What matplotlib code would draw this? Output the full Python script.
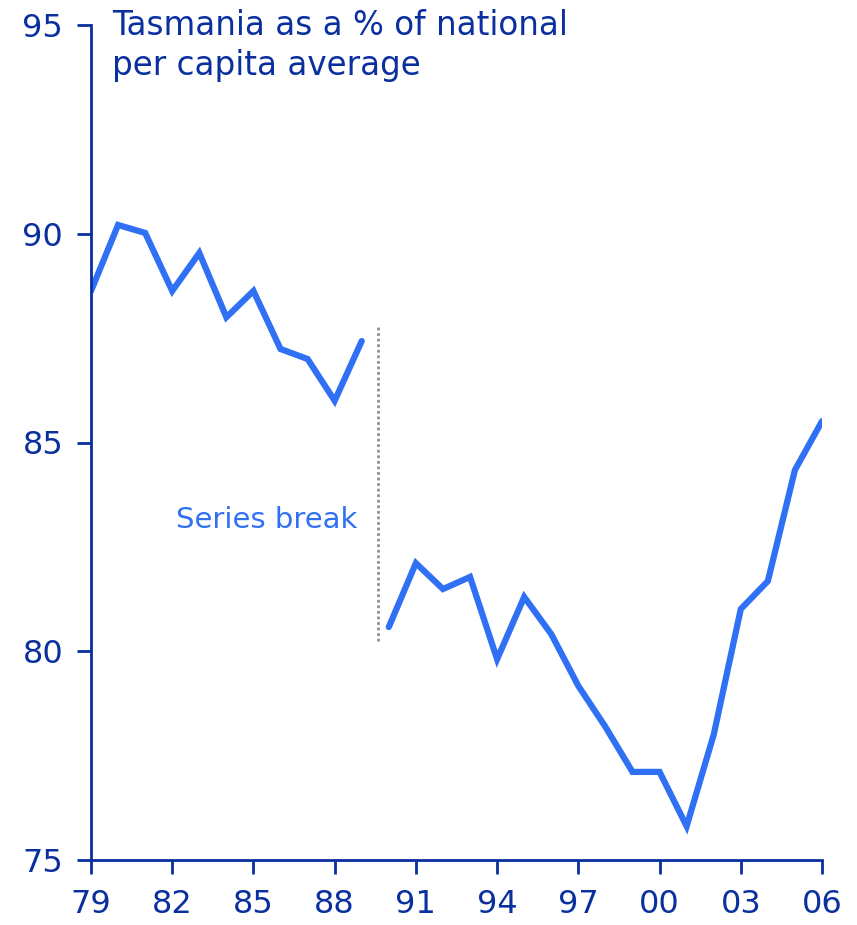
import matplotlib.pyplot as plt

# Data: Tasmania as % of national per capita average
years_a = [1979, 1980, 1981, 1982, 1983, 1984, 1985, 1986, 1987, 1988, 1989]
values_a = [88.63, 90.21, 90.02, 88.63, 89.54, 88.0, 88.63, 87.24, 87.0, 86.0, 87.43]

years_b = [1990, 1991, 1992, 1993, 1994, 1995, 1996, 1997, 1998, 1999,
           2000, 2001, 2002, 2003, 2004, 2005, 2006]
values_b = [80.58, 82.11, 81.49, 81.78, 79.81, 81.3, 80.41, 79.17, 78.19, 77.11,
            77.11, 75.81, 78.0, 81.01, 81.68, 84.34, 85.51]

break_x = 1989.6
break_range = [80.25, 87.8]

xticks = [1979, 1982, 1985, 1988, 1991, 1994, 1997, 2000, 2003, 2006]
xtick_labels = ['79', '82', '85', '88', '91', '94', '97', '00', '03', '06']
yticks = [75, 80, 85, 90, 95]

navy = '#0a2f9e'
line_blue = '#3070f5'

plt.rcParams['font.family'] = 'DejaVu Sans'

fig = plt.figure(figsize=(8.57, 9.25), dpi=100)
ax = fig.add_axes([91 / 857, 1 - 860 / 925, 731 / 857, 835 / 925])

ax.plot(years_a, values_a, color=line_blue, lw=4.5, solid_joinstyle='miter', solid_capstyle='round')
ax.plot(years_b, values_b, color=line_blue, lw=4.5, solid_joinstyle='miter', solid_capstyle='round')
ax.vlines(break_x, break_range[0], break_range[1], colors='#909090', linestyles=(0, (1, 1)), lw=2)
ax.text(1988.85, 83.15, 'Series break', color=line_blue, fontsize=21, ha='right', va='center')

ax.set_xlim(1979, 2006)
ax.set_ylim(75, 95)
ax.set_xticks(xticks)
ax.set_xticklabels(xtick_labels)
ax.set_yticks(yticks)

for s in ['top', 'right']:
    ax.spines[s].set_visible(False)
for s in ['left', 'bottom']:
    ax.spines[s].set_color(navy)
    ax.spines[s].set_linewidth(2)
ax.tick_params(axis='both', colors=navy, labelsize=23, width=2, length=10, direction='out')
ax.tick_params(axis='x', pad=11)
ax.tick_params(axis='y', pad=10)

fig.text(112 / 857, 1 - 9 / 925, 'Tasmania as a % of national\nper capita average',
         color=navy, fontsize=23.5, ha='left', va='top', linespacing=1.25)

fig.savefig('out.png', dpi=100)
